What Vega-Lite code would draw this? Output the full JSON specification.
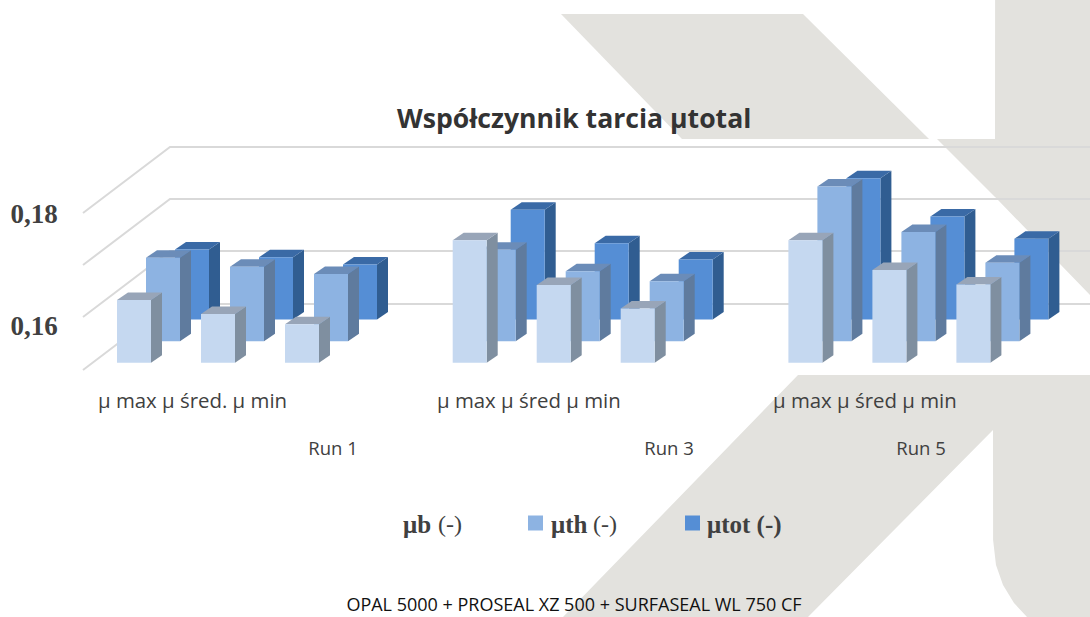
{
"$schema":"https://vega.github.io/schema/vega-lite/v6.json",
"width":1090,"height":617,"autosize":"none","padding":0,"background":"#ffffff",
"title":{"text":"Współczynnik tarcia µtotal","anchor":"start","frame":"group","dx":397,"offset":-134,"font":"Open Sans","fontSize":26.6,"fontWeight":"bold","color":"#333333"},
"config":{"view":{"stroke":null}},
"datasets":{
"shapes":[
{"shape":"a","hx":561,"t":14,"b":14},{"shape":"a","hx":682,"t":14,"b":139},{"shape":"a","hx":803,"t":14,"b":139},{"shape":"a","hx":929,"t":139,"b":139},
{"shape":"c","hx":937,"t":139,"b":139},{"shape":"c","hx":995,"t":139,"b":197},{"shape":"c","hx":995.1,"t":0,"b":197},{"shape":"c","hx":1090,"t":0,"b":295},
{"shape":"d","hx":563,"t":617,"b":617},{"shape":"d","hx":798,"t":375,"b":617},{"shape":"d","hx":808,"t":375,"b":617},{"shape":"d","hx":993,"t":375,"b":430},{"shape":"d","hx":993.1,"t":375,"b":540},{"shape":"d","hx":996,"t":375,"b":565},{"shape":"d","hx":1003,"t":375,"b":585},{"shape":"d","hx":1014,"t":375,"b":603},{"shape":"d","hx":1027,"t":375,"b":617},{"shape":"d","hx":1090,"t":375,"b":617}
],
"grid":[{"level":0.18036},{"level":0.17107},{"level":0.16179},{"level":0.15232}],
"bars":[
{"run":"Run 1","g":0,"metric":"μ max","m":0,"series":"μb","s":0,"value":0.1648},
{"run":"Run 1","g":0,"metric":"μ śred.","m":1,"series":"μb","s":0,"value":0.1623},
{"run":"Run 1","g":0,"metric":"μ min","m":2,"series":"μb","s":0,"value":0.1605},
{"run":"Run 3","g":1,"metric":"μ max","m":0,"series":"μb","s":0,"value":0.1755},
{"run":"Run 3","g":1,"metric":"μ śred","m":1,"series":"μb","s":0,"value":0.1675},
{"run":"Run 3","g":1,"metric":"μ min","m":2,"series":"μb","s":0,"value":0.1633},
{"run":"Run 5","g":2,"metric":"μ max","m":0,"series":"μb","s":0,"value":0.1755},
{"run":"Run 5","g":2,"metric":"μ śred","m":1,"series":"μb","s":0,"value":0.1702},
{"run":"Run 5","g":2,"metric":"μ min","m":2,"series":"μb","s":0,"value":0.1676},
{"run":"Run 1","g":0,"metric":"μ max","m":0,"series":"μth","s":1,"value":0.1685},
{"run":"Run 1","g":0,"metric":"μ śred.","m":1,"series":"μth","s":1,"value":0.1669},
{"run":"Run 1","g":0,"metric":"μ min","m":2,"series":"μth","s":1,"value":0.1656},
{"run":"Run 3","g":1,"metric":"μ max","m":0,"series":"μth","s":1,"value":0.1699},
{"run":"Run 3","g":1,"metric":"μ śred","m":1,"series":"μth","s":1,"value":0.1661},
{"run":"Run 3","g":1,"metric":"μ min","m":2,"series":"μth","s":1,"value":0.1643},
{"run":"Run 5","g":2,"metric":"μ max","m":0,"series":"μth","s":1,"value":0.1812},
{"run":"Run 5","g":2,"metric":"μ śred","m":1,"series":"μth","s":1,"value":0.1731},
{"run":"Run 5","g":2,"metric":"μ min","m":2,"series":"μth","s":1,"value":0.1676},
{"run":"Run 1","g":0,"metric":"μ max","m":0,"series":"μtot","s":2,"value":0.1661},
{"run":"Run 1","g":0,"metric":"μ śred.","m":1,"series":"μtot","s":2,"value":0.1647},
{"run":"Run 1","g":0,"metric":"μ min","m":2,"series":"μtot","s":2,"value":0.1634},
{"run":"Run 3","g":1,"metric":"μ max","m":0,"series":"μtot","s":2,"value":0.1732},
{"run":"Run 3","g":1,"metric":"μ śred","m":1,"series":"μtot","s":2,"value":0.1672},
{"run":"Run 3","g":1,"metric":"μ min","m":2,"series":"μtot","s":2,"value":0.1643},
{"run":"Run 5","g":2,"metric":"μ max","m":0,"series":"μtot","s":2,"value":0.1788},
{"run":"Run 5","g":2,"metric":"μ śred","m":1,"series":"μtot","s":2,"value":0.1720},
{"run":"Run 5","g":2,"metric":"μ min","m":2,"series":"μtot","s":2,"value":0.1680}
],
"groups":[{"g":0,"label":"μ max μ śred. μ min","run":"Run 1"},{"g":1,"label":"μ max μ śred μ min","run":"Run 3"},{"g":2,"label":"μ max μ śred μ min","run":"Run 5"}],
"legend":[{"i":0,"name":"μb","unit":"(-)"},{"i":1,"name":"μth","unit":"(-)"},{"i":2,"name":"μtot (-)","unit":""}],
"footer":[{"label":"OPAL 5000 + PROSEAL XZ 500 + SURFASEAL WL 750 CF"}]
},
"encoding":{
"x":{"field":"x","type":"quantitative","scale":{"domain":[0,1090],"range":[0,1090],"nice":false,"zero":false},"axis":null},
"y":{"field":"y","type":"quantitative","title":null,"scale":{"domain":[0.108214,0.218393],"range":[617,0],"nice":false,"zero":false},
"axis":{"values":[0.16,0.18],"labelExpr":"replace(format(datum.value,'.2f'),'.',',')","domain":false,"ticks":false,"grid":false,"title":null,"labelAlign":"left","labelPadding":-10,"labelFont":"Liberation Serif","labelFontSize":27,"labelFontWeight":"bold","labelColor":"#404040"}}
},
"layer":[
{"data":{"name":"shapes"},
"transform":[{"calculate":"datum.hx","as":"x"},{"calculate":"0.16+(327-datum.t)/5600","as":"y"},{"calculate":"0.16+(327-datum.b)/5600","as":"y2"}],
"mark":{"type":"area","fill":"#e3e2de","stroke":null},
"encoding":{"y2":{"field":"y2"},"detail":{"field":"shape"}}},
{"data":{"name":"grid"},
"transform":[{"calculate":"[0,1,2]","as":"pts"},{"flatten":["pts"],"as":["p"]},{"calculate":"[83,170,1090][datum.p]","as":"x"},{"calculate":"datum.level+(datum.p>0?66/5600:0)","as":"y"}],
"mark":{"type":"line","stroke":"#d9d9d9","strokeWidth":2,"interpolate":"linear"},
"encoding":{"detail":{"field":"level"},"order":{"field":"p"}}},
{"data":{"name":"bars"},
"transform":[
{"calculate":"[0,1,2]","as":"faces"},{"flatten":["faces"],"as":["face"]},
{"calculate":"[0,1]","as":"ps"},{"flatten":["ps"],"as":["p"]},
{"calculate":"datum.g*10+datum.m","as":"id"},
{"calculate":"117+335.7*datum.g+84*datum.m+29*datum.s","as":"x0"},
{"calculate":"datum.value+datum.s*21.7/5600","as":"top"},
{"calculate":"0.1536+datum.s*21.7/5600","as":"base"},
{"calculate":"datum.face==0?datum.x0:(datum.face==1?datum.x0+34+datum.p*11:datum.x0+datum.p*11)","as":"x"},
{"calculate":"datum.face==2?datum.x0+34+datum.p*11:datum.x0+34","as":"x2"},
{"calculate":"datum.face==0?datum.top:datum.top+datum.p*7.5/5600","as":"y"},
{"calculate":"datum.face==0?datum.base:datum.base+datum.p*7.5/5600","as":"y2"}
],
"layer":[
{"transform":[{"filter":"datum.s==2&&datum.face==1"}],"mark":{"type":"area","fill":"#305d91"},"encoding":{"y2":{"field":"y2"},"detail":{"field":"id"}}},
{"transform":[{"filter":"datum.s==2&&datum.face==2"}],"mark":{"type":"area","orient":"horizontal","fill":"#3a6aa6"},"encoding":{"x2":{"field":"x2"},"detail":{"field":"id"}}},
{"transform":[{"filter":"datum.s==2&&datum.face==0&&datum.p==0"}],"mark":{"type":"rect","fill":"#558ed5"},"encoding":{"x2":{"field":"x2"},"y2":{"field":"y2"}}},
{"transform":[{"filter":"datum.s==1&&datum.face==1"}],"mark":{"type":"area","fill":"#5f7b9e"},"encoding":{"y2":{"field":"y2"},"detail":{"field":"id"}}},
{"transform":[{"filter":"datum.s==1&&datum.face==2"}],"mark":{"type":"area","orient":"horizontal","fill":"#6b8cb8"},"encoding":{"x2":{"field":"x2"},"detail":{"field":"id"}}},
{"transform":[{"filter":"datum.s==1&&datum.face==0&&datum.p==0"}],"mark":{"type":"rect","fill":"#8db3e2"},"encoding":{"x2":{"field":"x2"},"y2":{"field":"y2"}}},
{"transform":[{"filter":"datum.s==0&&datum.face==1"}],"mark":{"type":"area","fill":"#7f8fa0"},"encoding":{"y2":{"field":"y2"},"detail":{"field":"id"}}},
{"transform":[{"filter":"datum.s==0&&datum.face==2"}],"mark":{"type":"area","orient":"horizontal","fill":"#98a5b8"},"encoding":{"x2":{"field":"x2"},"detail":{"field":"id"}}},
{"transform":[{"filter":"datum.s==0&&datum.face==0&&datum.p==0"}],"mark":{"type":"rect","fill":"#c5d8f0"},"encoding":{"x2":{"field":"x2"},"y2":{"field":"y2"}}}
]},
{"data":{"name":"groups"},
"transform":[{"calculate":"[98,437,773][datum.g]","as":"x"},{"calculate":"0.16+(327-402)/5600","as":"y"}],
"mark":{"type":"text","align":"left","baseline":"middle","font":"Open Sans","fontSize":20.4,"color":"#404040"},
"encoding":{"text":{"field":"label"}}},
{"data":{"name":"groups"},
"transform":[{"calculate":"[333,669,921][datum.g]","as":"x"},{"calculate":"0.16+(327-449)/5600","as":"y"}],
"mark":{"type":"text","align":"center","baseline":"middle","font":"Open Sans","fontSize":18.5,"color":"#404040"},
"encoding":{"text":{"field":"run"}}},
{"data":{"name":"legend"},
"transform":[{"filter":"datum.i>0"},{"calculate":"[0,535.5,692.5][datum.i]","as":"x"},{"calculate":"0.16+(327-523)/5600","as":"y"}],
"mark":{"type":"point","shape":"square","filled":true,"size":225,"opacity":1},
"encoding":{"color":{"field":"name","type":"nominal","scale":{"domain":["μth","μtot (-)"],"range":["#8db3e2","#558ed5"]},"legend":null}}},
{"data":{"name":"legend"},
"transform":[{"calculate":"[403,551,707][datum.i]","as":"x"},{"calculate":"0.16+(327-525)/5600","as":"y"}],
"mark":{"type":"text","align":"left","baseline":"middle","font":"Liberation Serif","fontSize":25,"fontWeight":"bold","color":"#404040"},
"encoding":{"text":{"field":"name"}}},
{"data":{"name":"legend"},
"transform":[{"filter":"datum.i<2"},{"calculate":"[438,593][datum.i]","as":"x"},{"calculate":"0.16+(327-525)/5600","as":"y"}],
"mark":{"type":"text","align":"left","baseline":"middle","font":"Liberation Serif","fontSize":24,"color":"#404040"},
"encoding":{"text":{"field":"unit"}}},
{"data":{"name":"footer"},
"transform":[{"calculate":"574","as":"x"},{"calculate":"0.16+(327-606)/5600","as":"y"}],
"mark":{"type":"text","align":"center","baseline":"middle","font":"Open Sans","fontSize":18,"color":"#111111"},
"encoding":{"text":{"field":"label"}}}
]
}
